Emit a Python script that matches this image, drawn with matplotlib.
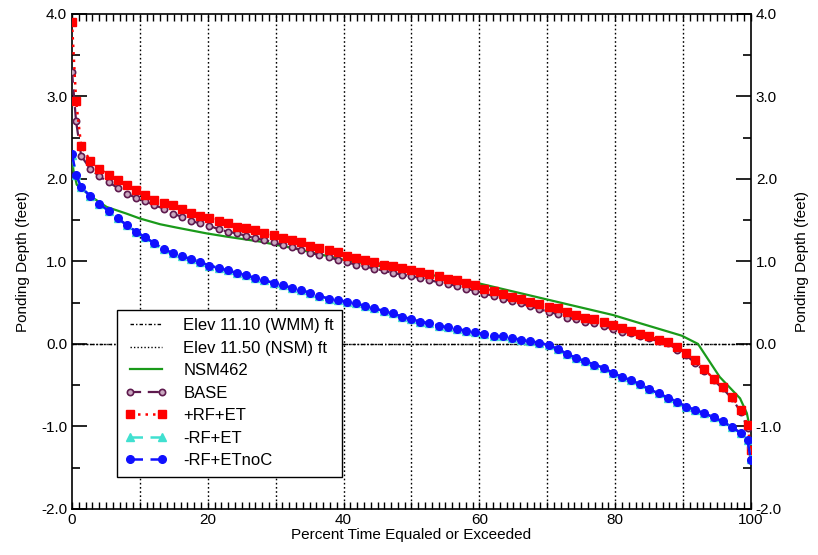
import numpy as np
import matplotlib
matplotlib.use("Agg")
import matplotlib.pyplot as plt
from matplotlib.ticker import MultipleLocator

plt.rcParams['font.family'] = ['Liberation Sans', 'DejaVu Sans']

# ---------------- data ----------------
pct = [0.0, 0.6, 1.35, 2.7, 4.05, 5.4, 6.75, 8.1, 9.45, 10.8, 12.15, 13.5, 14.85,
       16.2, 17.55, 18.9, 20.25, 21.6, 22.95, 24.3, 25.65, 27.0, 28.35, 29.7,
       31.05, 32.4, 33.75, 35.1, 36.45, 37.8, 39.15, 40.5, 41.85, 43.2, 44.55,
       45.9, 47.25, 48.6, 49.95, 51.3, 52.65, 54.0, 55.35, 56.7, 58.05, 59.4,
       60.75, 62.1, 63.45, 64.8, 66.15, 67.5, 68.85, 70.2, 71.55, 72.9, 74.25,
       75.6, 76.95, 78.3, 79.65, 81.0, 82.35, 83.7, 85.05, 86.4, 87.75, 89.1,
       90.45, 91.8, 93.15, 94.5, 95.85, 97.2, 98.55, 99.5, 100.0]

base = [3.30, 2.70, 2.28, 2.12, 2.03, 1.96, 1.89, 1.82, 1.77, 1.73, 1.68, 1.64, 1.58,
        1.54, 1.49, 1.46, 1.43, 1.39, 1.36, 1.34, 1.31, 1.28, 1.26, 1.23,
        1.20, 1.17, 1.14, 1.10, 1.08, 1.05, 1.02, 0.99, 0.96, 0.94, 0.91,
        0.89, 0.86, 0.84, 0.82, 0.80, 0.77, 0.75, 0.73, 0.70, 0.67, 0.64,
        0.61, 0.58, 0.55, 0.52, 0.49, 0.46, 0.42, 0.39, 0.36, 0.32, 0.30,
        0.27, 0.25, 0.22, 0.18, 0.15, 0.13, 0.10, 0.07, 0.03, 0.01, -0.07,
        -0.14, -0.23, -0.33, -0.44, -0.54, -0.66, -0.83, -1.02, -1.40]

rf_et = [3.90, 2.95, 2.40, 2.22, 2.12, 2.05, 1.99, 1.93, 1.87, 1.81, 1.75, 1.71, 1.68,
         1.63, 1.59, 1.55, 1.52, 1.49, 1.46, 1.42, 1.40, 1.38, 1.35, 1.32,
         1.28, 1.26, 1.23, 1.19, 1.16, 1.14, 1.11, 1.07, 1.04, 1.02, 0.99,
         0.96, 0.94, 0.92, 0.90, 0.87, 0.85, 0.82, 0.79, 0.77, 0.74, 0.71,
         0.67, 0.64, 0.60, 0.57, 0.54, 0.51, 0.48, 0.45, 0.43, 0.39, 0.35,
         0.32, 0.30, 0.27, 0.23, 0.19, 0.16, 0.12, 0.09, 0.05, 0.02, -0.04,
         -0.11, -0.20, -0.31, -0.42, -0.52, -0.64, -0.80, -0.98, -1.28]

mrf_et = [2.29, 2.05, 1.90, 1.79, 1.70, 1.61, 1.52, 1.44, 1.36, 1.29, 1.22, 1.15, 1.10,
          1.06, 1.03, 0.99, 0.95, 0.92, 0.89, 0.86, 0.83, 0.80, 0.77, 0.74,
          0.71, 0.68, 0.65, 0.62, 0.58, 0.55, 0.53, 0.51, 0.49, 0.46, 0.43,
          0.40, 0.37, 0.33, 0.30, 0.27, 0.25, 0.22, 0.20, 0.18, 0.16, 0.14,
          0.12, 0.10, 0.09, 0.07, 0.05, 0.03, 0.015, -0.015, -0.06, -0.12, -0.17,
          -0.21, -0.25, -0.29, -0.35, -0.40, -0.44, -0.49, -0.55, -0.60, -0.65, -0.70,
          -0.76, -0.80, -0.84, -0.89, -0.94, -1.01, -1.08, -1.17, -1.40]

mrf_etnoc = [2.30, 2.05, 1.90, 1.79, 1.70, 1.61, 1.52, 1.44, 1.36, 1.29, 1.22, 1.15, 1.10,
             1.06, 1.03, 0.99, 0.95, 0.92, 0.89, 0.86, 0.83, 0.80, 0.77, 0.74,
             0.71, 0.68, 0.65, 0.62, 0.58, 0.55, 0.53, 0.51, 0.49, 0.46, 0.43,
             0.40, 0.37, 0.33, 0.30, 0.27, 0.25, 0.22, 0.20, 0.18, 0.16, 0.14,
             0.12, 0.10, 0.09, 0.07, 0.05, 0.03, 0.015, -0.015, -0.06, -0.12, -0.17,
             -0.21, -0.25, -0.29, -0.35, -0.40, -0.44, -0.49, -0.55, -0.60, -0.65, -0.70,
             -0.76, -0.80, -0.84, -0.89, -0.94, -1.01, -1.08, -1.17, -1.41]

nsm_pct = [0.0, 0.2, 0.7, 1.9, 3.1, 5.1, 8.0, 10.0, 13.0, 15.4, 19.8, 22.8, 27.7,
           32.6, 40.0, 49.8, 59.6, 69.9, 79.7, 83.7, 89.8, 92.2, 95.4, 98.4,
           99.4, 99.9]
nsm462 = [2.30, 2.11, 1.93, 1.85, 1.77, 1.66, 1.58, 1.52, 1.45, 1.41, 1.34, 1.30, 1.24,
          1.16, 1.02, 0.88, 0.74, 0.54, 0.35, 0.25, 0.10, 0.0, -0.40, -0.66,
          -0.84, -1.04]

elev_x = [0, 100]
elev_wmm = [0.0, 0.0]
elev_nsm = [0.0, 0.0]

grid_x = [10, 20, 30, 40, 50, 60, 70, 80, 90]

# ---------------- figure ----------------
fig = plt.figure(figsize=(8.18, 5.55), dpi=100)
ax = fig.add_axes([0.088, 0.083, 0.830, 0.892])

for gx in grid_x:
    ax.axvline(gx, color='black', lw=1.0, ls=(0, (1.2, 1.8)), zorder=1)

ax.plot(elev_x, elev_wmm, color='black', lw=1.0, ls=(0, (2.5, 1.5, 1, 1.5)),
        label='Elev 11.10 (WMM) ft', zorder=1)
ax.plot(elev_x, elev_nsm, color='black', lw=1.0, ls=(0, (1, 1.5)),
        label='Elev 11.50 (NSM) ft', zorder=1)

ax.plot(nsm_pct, nsm462, color='#1a9a1a', lw=1.6, label='NSM462', zorder=3)
ax.plot(pct, base, color='#5e1a4e', lw=1.6, ls=(0, (5, 3)), marker='o', ms=4.5,
        mfc='#c9a8c0', mec='#5e1a4e', mew=1.2, label='BASE', zorder=4)
ax.plot(pct, rf_et, color='red', lw=1.8, ls=(0, (1, 2)), marker='s', ms=6,
        mfc='red', mec='red', label='+RF+ET', zorder=5)
ax.plot(pct, mrf_et, color='#40e0d0', lw=1.8, ls=(0, (5, 3)), marker='^', ms=6,
        mfc='#40e0d0', mec='#40e0d0', label='-RF+ET', zorder=5)
ax.plot(pct, mrf_etnoc, color='#1010ff', lw=1.8, ls=(0, (5, 3)), marker='o', ms=5.5,
        mfc='#1010ff', mec='#1010ff', label='-RF+ETnoC', zorder=6)

ax.set_xlim(0, 100)
ax.set_ylim(-2.0, 4.0)
ax.xaxis.set_major_locator(MultipleLocator(20))
ax.xaxis.set_minor_locator(MultipleLocator(1))
ax.yaxis.set_major_locator(MultipleLocator(1.0))
ax.yaxis.set_minor_locator(MultipleLocator(0.5))
ax.yaxis.set_major_formatter(matplotlib.ticker.FormatStrFormatter('%.1f'))
ax.tick_params(axis='x', which='both', direction='in', top=True, bottom=True,
               length=5, width=1, labelsize=11, pad=3)
ax.tick_params(axis='y', which='major', direction='in', left=True, right=True,
               length=11, width=1.2, labelsize=11, labelright=True)
ax.tick_params(axis='y', which='minor', direction='in', left=True, right=True,
               length=6, width=1.2)
for s in ax.spines.values():
    s.set_linewidth(1.2)

ax.set_xlabel('Percent Time Equaled or Exceeded', fontsize=11, labelpad=1)
ax.set_ylabel('Ponding Depth (feet)', fontsize=11, labelpad=8)
ax.text(1.075, 0.5, 'Ponding Depth (feet)', transform=ax.transAxes, rotation=90,
        va='center', ha='center', fontsize=11)

leg = ax.legend(loc='upper left', bbox_to_anchor=(0.066, 0.402), fontsize=12,
                frameon=True, fancybox=False, edgecolor='black', framealpha=1,
                numpoints=2, handlelength=2.5, handletextpad=1.0, labelspacing=0.45,
                borderpad=0.5, borderaxespad=0)
leg.get_frame().set_linewidth(1.0)

fig.savefig('out.png', dpi=100)
